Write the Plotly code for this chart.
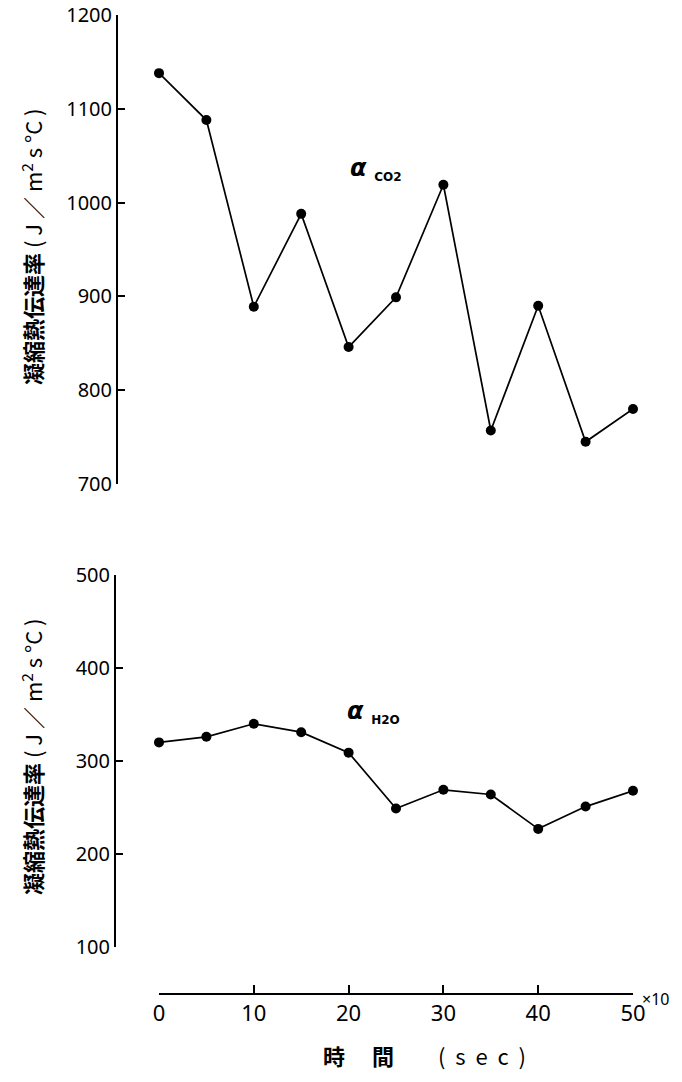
import plotly.graph_objects as go

W, H = 682, 1082

time_x10 = [0, 5, 10, 15, 20, 25, 30, 35, 40, 45, 50]
alpha_co2 = [1138, 1088, 889, 988, 846, 899, 1019, 757, 890, 745, 780]
alpha_h2o = [320, 326, 340, 331, 309, 249, 269, 264, 227, 251, 268]

y_title = "<b>凝縮熱伝達率</b> ( J ／ m<sup>2</sup> s °C )"
x_title = "<b>時　 間</b>　　(  s  e  c  )"

def px_y(p):
    return 1 - p / H

def px_x(p):
    return p / W

fig = go.Figure()
fig.add_trace(go.Scatter(x=time_x10, y=alpha_co2, mode="lines+markers",
                         line=dict(color="black", width=1.7),
                         marker=dict(color="black", size=10),
                         xaxis="x", yaxis="y", showlegend=False, cliponaxis=False))
fig.add_trace(go.Scatter(x=time_x10, y=alpha_h2o, mode="lines+markers",
                         line=dict(color="black", width=1.7),
                         marker=dict(color="black", size=10),
                         xaxis="x", yaxis="y2", showlegend=False, cliponaxis=False))

tickfont = dict(family="Noto Sans", size=20, color="black")
yax = dict(showline=True, linecolor="black", linewidth=2, ticks="inside",
           ticklen=7, tickwidth=2, tickcolor="black", showgrid=False,
           zeroline=False, tickfont=tickfont, anchor="free", side="left",
           fixedrange=True, automargin=False)

fig.update_layout(
    width=W, height=H,
    margin=dict(l=0, r=0, t=0, b=0, autoexpand=False),
    paper_bgcolor="white", plot_bgcolor="white",
    xaxis=dict(domain=[px_x(159), px_x(633)], range=[0, 50],
               tickvals=[0, 10, 20, 30, 40, 50],
               showline=True, linecolor="black", linewidth=2,
               ticks="inside", ticklen=8, tickwidth=2, tickcolor="black",
               showgrid=False, zeroline=False,
               tickfont=dict(family="Noto Sans", size=22, color="black"),
               anchor="free", position=px_y(994), automargin=False,
               fixedrange=True),
    yaxis=dict(domain=[px_y(484), px_y(15)], range=[700, 1200],
               tickvals=[700, 800, 900, 1000, 1100, 1200],
               position=px_x(117), **yax),
    yaxis2=dict(domain=[px_y(947), px_y(575)], range=[100, 500],
                tickvals=[100, 200, 300, 400, 500],
                position=px_x(115), **yax),
)

ann_font = dict(family="Noto Sans CJK JP", size=22, color="black")
common = dict(xref="paper", yref="paper", showarrow=False,
              xanchor="center", yanchor="middle")
fig.add_annotation(text=y_title, textangle=-90, x=px_x(31), y=px_y(247),
                   font=ann_font, **common)
fig.add_annotation(text=y_title, textangle=-90, x=px_x(31), y=px_y(757),
                   font=ann_font, **common)
fig.add_annotation(text=x_title, x=px_x(424), y=px_y(1055),
                   font=ann_font, **common)
fig.add_annotation(text="×10", x=px_x(655), y=px_y(999),
                   font=dict(family="Noto Sans", size=16, color="black"), **common)
sub_style = "<span style='font-size:12px;font-weight:bold'>"
fig.add_annotation(text="<b><i>α</i></b> <sub>" + sub_style + "CO2</span></sub>",
                   x=px_x(376), y=px_y(169),
                   font=dict(family="DejaVu Sans", size=24, color="black"), **common)
fig.add_annotation(text="<b><i>α</i></b> <sub>" + sub_style + "H2O</span></sub>",
                   x=px_x(373), y=px_y(712),
                   font=dict(family="DejaVu Sans", size=24, color="black"), **common)

fig.write_html("out.html", post_script="document.body.style.margin='0';",
               config={"displayModeBar": False, "staticPlot": True})
